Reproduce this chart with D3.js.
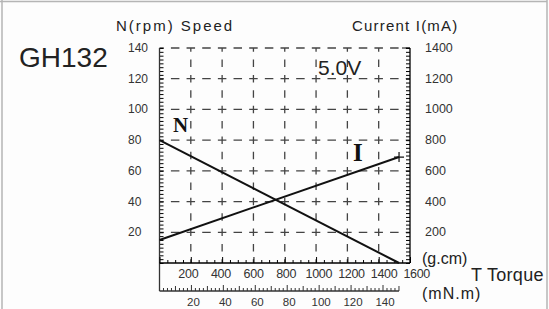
<!DOCTYPE html>
<html>
<head>
<meta charset="utf-8">
<script src="https://cdn.jsdelivr.net/npm/d3@7"></script>
<style>
body { margin: 0; background: #fdfdfd; }
svg { display: block; font-family: "Liberation Sans", Arial, sans-serif; }
</style>
</head>
<body>
<div class="chart"></div>
<script>
'use strict';
// torque in g.cm, speed in rpm, current in mA
var torque = [0, 1530];
var speed = [80, 0];
var current = [150, 690];

var speedTicks = [20, 40, 60, 80, 100, 120, 140];
var currentTicks = [200, 400, 600, 800, 1000, 1200, 1400];
var gcmTicks = [200, 400, 600, 800, 1000, 1200, 1400, 1600];
var mnmTicks = [20, 40, 60, 80, 100, 120, 140];
var gridX = [200, 400, 600, 800, 1000, 1200, 1400];

var W = 549, H = 309;
var plot = {l: 159.5, r: 410, t: 48, b: 263};
var lowAxisY = 291;

var chart = d3.select(".chart")
	.append("svg")
		.attr("width", W)
		.attr("height", H);

// scanned frame edges
chart.append("path")
	.attr("d", "M2,0V309M0,1.5H547M547,0V309")
	.attr("fill", "none")
	.attr("stroke", "#b5b5b5")
	.attr("stroke-width", 1.5);

var x = d3.scaleLinear().domain([0, 1600]).range([plot.l, plot.r]);
var y = d3.scaleLinear().domain([0, 140]).range([plot.b, plot.t]);
var yI = d3.scaleLinear().domain([0, 1400]).range([plot.b, plot.t]);
// printed g.cm labels drift a little wider than the grid
var xLab = d3.scaleLinear().domain([0, 1600]).range([155.7, 416.7]);
var mnm = function(v){ return x(v * 10.197); };

var cellW = x(200) - x(0), cellH = y(0) - y(20);

// dashed grid
chart.append("g").selectAll("line.h")
	.data(speedTicks)
	.enter().append("line")
		.attr("x1", plot.l).attr("x2", plot.r)
		.attr("y1", (d) => y(d)).attr("y2", (d) => y(d))
		.attr("stroke", "#444").attr("stroke-width", 1.3)
		.attr("stroke-dasharray", "8.5," + (cellW / 2 - 8.5))
		.attr("stroke-dashoffset", 4.25);

chart.append("g").selectAll("line.v")
	.data(gridX)
	.enter().append("line")
		.attr("x1", (d) => x(d)).attr("x2", (d) => x(d))
		.attr("y1", plot.b).attr("y2", plot.t)
		.attr("stroke", "#444").attr("stroke-width", 1.3)
		.attr("stroke-dasharray", "7.5," + (cellH / 2 - 7.5))
		.attr("stroke-dashoffset", 3.75);

// left speed axis
var leftAxis = d3.axisRight(y)
	.tickValues(d3.range(0, 140.1, 2.5))
	.tickSize(4).tickFormat("");
chart.append("g")
	.attr("transform", "translate(" + plot.l + ",0)")
	.call(leftAxis)
	.call((g) => g.select(".domain").remove());
chart.append("line")
	.attr("x1", plot.l).attr("x2", plot.l)
	.attr("y1", plot.t).attr("y2", lowAxisY)
	.attr("stroke", "#333").attr("stroke-width", 1.3);

chart.append("g").selectAll("text")
	.data(speedTicks)
	.enter().append("text")
		.attr("x", 128)
		.attr("y", (d) => y(d) + 4)
		.attr("font-size", 12)
		.attr("fill", "#333")
		.text((d) => d);

// right current axis
var rightAxis = d3.axisLeft(yI)
	.tickValues(d3.range(0, 1400.1, 25))
	.tickSize(4).tickFormat("");
chart.append("g")
	.attr("transform", "translate(" + plot.r + ",0)")
	.call(rightAxis)
	.call((g) => g.select(".domain").attr("stroke-width", 1.3).attr("d", "M0," + plot.t + "V" + plot.b))
	.call((g) => g.insert("line", ":first-child").attr("x1", -8).attr("x2", 0)
		.attr("y1", plot.t).attr("y2", plot.t).attr("stroke", "#333").attr("stroke-width", 1.2));

chart.append("g").selectAll("text")
	.data(currentTicks)
	.enter().append("text")
		.attr("x", 425)
		.attr("y", (d) => yI(d) + 4)
		.attr("font-size", 12.5)
		.attr("fill", "#333")
		.text((d) => d);

// g.cm axis
var gcmAxis = d3.axisTop(x)
	.tickValues(d3.range(0, 1600.1, 50))
	.tickSize(3).tickFormat("");
chart.append("g")
	.attr("transform", "translate(0," + plot.b + ")")
	.call(gcmAxis)
	.call((g) => g.selectAll(".tick line").filter((d) => d % 200 === 0).attr("y2", -6))
	.call((g) => g.select(".domain").attr("stroke-width", 1.3).attr("d", "M" + plot.l + ",0H" + plot.r));

chart.append("g").selectAll("text")
	.data(gcmTicks)
	.enter().append("text")
		.attr("x", (d) => xLab(d))
		.attr("y", 277.5)
		.attr("text-anchor", "middle")
		.attr("font-size", 12.5)
		.attr("letter-spacing", -0.3)
		.attr("fill", "#333")
		.text((d) => d);

// mN.m axis
var mnmVals = d3.range(0, 150.1, 2.5);
chart.append("g").selectAll("line")
	.data(mnmVals)
	.enter().append("line")
		.attr("x1", (d) => mnm(d)).attr("x2", (d) => mnm(d))
		.attr("y1", lowAxisY)
		.attr("y2", (d) => lowAxisY - (d % 20 === 0 ? 6 : (d % 10 === 0 ? 5 : 3)))
		.attr("stroke", "#333").attr("stroke-width", 1);
chart.append("line")
	.attr("x1", plot.l).attr("x2", mnm(150))
	.attr("y1", lowAxisY).attr("y2", lowAxisY)
	.attr("stroke", "#333").attr("stroke-width", 1.3);

chart.append("g").selectAll("text")
	.data(mnmTicks)
	.enter().append("text")
		.attr("x", (d) => mnm(d) + 2)
		.attr("y", 305.5)
		.attr("text-anchor", "middle")
		.attr("font-size", 11.5)
		.attr("fill", "#333")
		.text((d) => d);

// curves
var nLine = d3.line().x((d) => x(d[0])).y((d) => y(d[1]));
var iLine = d3.line().x((d) => x(d[0])).y((d) => yI(d[1]));

chart.append("path")
	.attr("d", nLine(d3.zip(torque, speed)))
	.attr("fill", "none").attr("stroke", "#111").attr("stroke-width", 2);
chart.append("path")
	.attr("d", iLine(d3.zip(torque, current)))
	.attr("fill", "none").attr("stroke", "#111").attr("stroke-width", 2);
chart.append("path")
	.attr("transform", "translate(" + x(torque[1]) + "," + yI(current[1]) + ")")
	.attr("d", "M-5,0H5M0,-5V5")
	.attr("stroke", "#111").attr("stroke-width", 1.2);

// labels
chart.append("text").attr("x", 173).attr("y", 132)
	.attr("font-family", "'Liberation Serif', 'DejaVu Serif', serif")
	.attr("font-weight", "bold").attr("font-size", 21).attr("fill", "#111")
	.text("N");
chart.append("text").attr("x", 353).attr("y", 161)
	.attr("font-family", "'Liberation Serif', 'DejaVu Serif', serif")
	.attr("font-weight", "bold").attr("font-size", 25).attr("fill", "#111")
	.text("I");
chart.append("text").attr("x", 318).attr("y", 75)
	.attr("font-size", 21).attr("fill", "#222")
	.text("5.0V");
chart.append("text").attr("x", 19).attr("y", 67)
	.attr("font-size", 28).attr("fill", "#222")
	.text("GH132");
chart.append("text").attr("x", 116).attr("y", 31)
	.attr("font-size", 15).attr("letter-spacing", 2).attr("fill", "#222")
	.text("N(rpm) Speed");
chart.append("text").attr("x", 352).attr("y", 31)
	.attr("font-size", 15).attr("letter-spacing", 1.2).attr("fill", "#222")
	.text("Current I(mA)");
chart.append("text").attr("x", 422).attr("y", 264)
	.attr("font-size", 16).attr("fill", "#222")
	.text("(g.cm)");
chart.append("text").attr("x", 471).attr("y", 281)
	.attr("font-size", 18).attr("letter-spacing", 0.3).attr("fill", "#222")
	.text("T Torque");
chart.append("text").attr("x", 422).attr("y", 299)
	.attr("font-size", 16).attr("letter-spacing", 1).attr("fill", "#222")
	.text("(mN.m)");
</script>
</body>
</html>
